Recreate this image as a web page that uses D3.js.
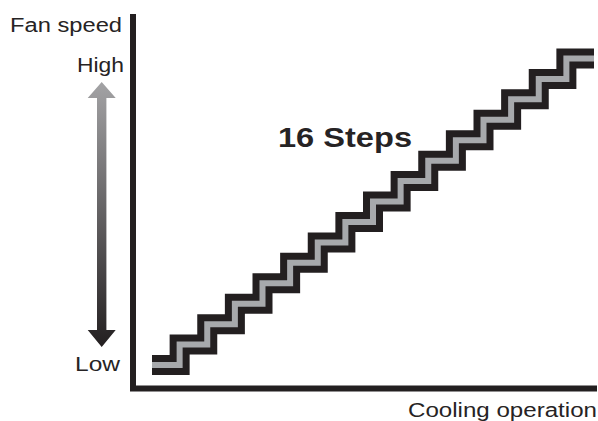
<!DOCTYPE html>
<html>
<head>
<meta charset="utf-8">
<script src="https://cdn.jsdelivr.net/npm/d3@7"></script>
<style>
  html, body { margin: 0; padding: 0; background: #fff; }
  svg { display: block; }
  text { font-family: "Liberation Sans", Arial, Helvetica, sans-serif; fill: #262324; }
</style>
</head>
<body>
<svg id="chart" width="598" height="421"></svg>
<script>
// ---- data ----
const levels = [1, 2, 3, 4, 5, 6, 7, 8, 9, 10, 11, 12, 13, 14, 15, 16];
const yTickLabels = ["Low", "High"];
const yAxisTitle = "Fan speed";
const xAxisTitle = "Cooling operation";
const annotation = "16 Steps";

(function () {
const svg = d3.select("#chart");

// scales
const x = d3.scaleLinear().domain([0, levels.length]).range([152, 594]);
const y = d3.scaleLinear().domain([1, 16]).range([365, 58.5]);

// gradient for arrow
const defs = svg.append("defs");
const grad = defs.append("linearGradient").attr("id", "arrowGrad")
  .attr("x1", 0).attr("y1", 0).attr("x2", 0).attr("y2", 1);
grad.append("stop").attr("offset", "0%").attr("stop-color", "#a3a3a5");
grad.append("stop").attr("offset", "100%").attr("stop-color", "#231f20");

// axes
svg.append("path")
  .attr("d", `M133,14 V388.5 H597`)
  .attr("fill", "none")
  .attr("stroke", "#231f20")
  .attr("stroke-width", 6)
  .attr("stroke-linejoin", "miter");

// staircase
const pts = levels.map((lv, i) => [x(i), y(lv)]);
pts.push([x(levels.length), y(levels[levels.length - 1])]);
const line = d3.line().curve(d3.curveStepAfter);
svg.append("path").attr("d", line(pts))
  .attr("fill", "none").attr("stroke", "#231f20").attr("stroke-width", 20)
  .attr("stroke-linejoin", "miter").attr("stroke-linecap", "butt");
svg.append("path").attr("d", line(pts))
  .attr("fill", "none").attr("stroke", "#a7a9ac").attr("stroke-width", 6)
  .attr("stroke-linejoin", "miter").attr("stroke-linecap", "butt");

// double-headed gradient arrow
const ax = 101.7, tipT = 82, baseT = 98, tipB = 347, baseB = 330, hw = 14, sw = 4.7;
svg.append("path")
  .attr("d", `M${ax},${tipT} L${ax+hw},${baseT} L${ax+sw},${baseT} L${ax+sw},${baseB}
              L${ax+hw},${baseB} L${ax},${tipB} L${ax-hw},${baseB} L${ax-sw},${baseB}
              L${ax-sw},${baseT} L${ax-hw},${baseT} Z`)
  .attr("fill", "url(#arrowGrad)");

// texts
function label(t, xx, yy, size, len, weight) {
  svg.append("text")
    .attr("x", xx).attr("y", yy)
    .attr("text-anchor", "start")
    .attr("font-size", size)
    .attr("font-weight", weight || "normal")
    .attr("textLength", len)
    .attr("lengthAdjust", "spacingAndGlyphs")
    .text(t);
}
label(yAxisTitle, 10, 32, 20, 112);
label(yTickLabels[1], 77, 72, 20, 47);
label(yTickLabels[0], 75, 371, 20, 45);
label(xAxisTitle, 408, 417, 20, 189);
label(annotation, 278, 147, 27, 134, "bold");
})();
</script>
</body>
</html>
